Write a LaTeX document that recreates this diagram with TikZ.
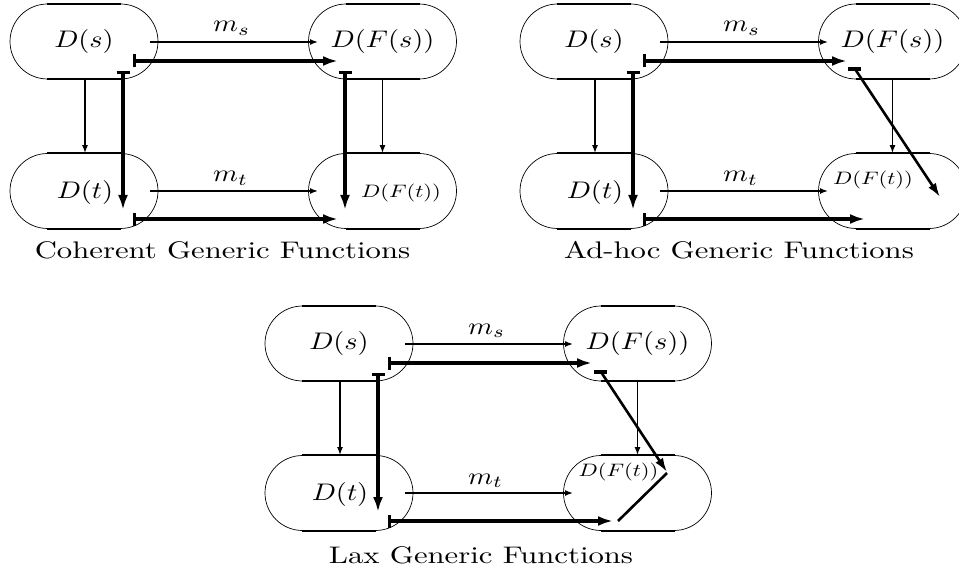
\documentclass[tikz,border=0pt]{standalone}
\usetikzlibrary{shapes.misc,arrows.meta,calc}
\tikzset{
  stad/.style={draw, line width=0.7pt, rounded rectangle, minimum width=148pt, minimum height=75pt, inner sep=0pt},
  flat/.style={line width=2.2pt},
  thinarr/.style={line width=1.5pt, -{Latex[length=8pt,width=6pt]}},
  thickarr/.style={line width=3.2pt, {Bar[width=13pt]}-{Latex[length=15pt,width=10pt]}},
  diagarr/.style={line width=2.6pt, -{Latex[length=14pt,width=9pt]}},
  diagline/.style={line width=2.6pt},
  hbar/.style={line width=3.2pt},
  mlab/.style={inner sep=0pt},
  slab/.style={inner sep=0pt},
  caplab/.style={inner sep=0pt},
}
\newcommand{\wm}[1]{\scalebox{2.83}[2.4]{$#1$}}
\newcommand{\ws}[1]{\scalebox{2.25}[1.8]{$#1$}}
\newcommand{\wc}[1]{\scalebox{3.07}[2.4]{#1}}
% common part of one diagram: #1 prefix, #2 end x of top thick arrow, #3 end x of bottom thick arrow
\newcommand{\commonpart}[3]{%
  \node[stad] (#1Ds) at (84,41.5) {\wm{D(s)}};
  \node[stad] (#1Dt) at (84,191) {};
  \node[mlab] (#1Dtl) at (85,192) {\wm{D(t)}};
  \node[stad] (#1DFs) at (382.5,41.5) {\wm{D(F(s))}};
  \node[stad] (#1DFt) at (382.5,191) {};
  \foreach \n in {Ds,Dt,DFs,DFt}
    \draw[flat] ($(#1\n.north)+(-37,0)$) -- ($(#1\n.north)+(37,0)$)
                ($(#1\n.south)+(-37,0)$) -- ($(#1\n.south)+(37,0)$);
  \node[mlab, anchor=base west] (#1ms) at (213,32) {\wm{m_s}};
  \node[mlab, anchor=base west] (#1mt) at (213,182) {\wm{m_t}};
  \coordinate (#1msA) at (150,42);  \coordinate (#1msB) at (318,42);
  \coordinate (#1mtA) at (150,191); \coordinate (#1mtB) at (318,191);
  \coordinate (#1tA) at (133,61);   \coordinate (#1tB) at (#2,61);
  \coordinate (#1bA) at (133,219);  \coordinate (#1bB) at (#3,219);
  \coordinate (#1lA) at (123,71);   \coordinate (#1lB) at (123,210);
  \draw[thinarr] (#1msA) -- (#1msB);
  \draw[thinarr] (#1mtA) -- (#1mtB);
  \draw[thickarr] (#1tA) -- (#1tB);
  \draw[thickarr] (#1bA) -- (#1bB);
  \draw[thickarr] (#1lA) -- (#1lB);
  \draw[thinarr] ($(#1Ds.south)+(1,0)$) -- ($(#1Dt.north)+(1,0)$);
  \draw[thinarr] (#1DFs.south) -- (#1DFt.north);
}
\begin{document}
\begin{tikzpicture}[x=1pt,y=-1pt]
\useasboundingbox (0,0) rectangle (959,575);
\fill[white] (0,0) rectangle (959,575);

% Coherent
\begin{scope}
  \commonpart{a}{338}{338}
  \node[slab] (aDFtl) at (401,193) {\ws{D(F(t))}};
  \coordinate (arA) at (345,71); \coordinate (arB) at (345,210);
  \draw[thickarr] (arA) -- (arB);
  \node[caplab] (acap) at (222.5,250) {\wc{Coherent Generic Functions}};
\end{scope}

% Ad-hoc
\begin{scope}[shift={(510,0)}]
  \commonpart{b}{337}{355}
  \node[slab] (bDFtl) at (363,180) {\ws{D(F(t))}};
  \coordinate (bdA) at (345,69); \coordinate (bdB) at (430,197);
  \coordinate (bhA) at (338,69); \coordinate (bhB) at (351,69);
  \draw[hbar] (bhA) -- (bhB);
  \draw[diagarr] (bdA) -- (bdB);
  \node[caplab] (bcap) at (229,250) {\wc{Ad-hoc Generic Functions}};
\end{scope}

% Lax
\begin{scope}[shift={(255,302)}]
  \commonpart{c}{337}{358}
  \node[slab] (cDFtl) at (363.5,170) {\ws{D(F(t))}};
  \coordinate (cdA) at (346,70); \coordinate (cdB) at (412,170);
  \coordinate (chA) at (339,70); \coordinate (chB) at (352,70);
  \coordinate (ceA) at (412,171); \coordinate (ceB) at (363,219);
  \draw[hbar] (chA) -- (chB);
  \draw[diagarr] (cdA) -- (cdB);
  \draw[diagline] (ceA) -- (ceB);
  \node[caplab] (ccap) at (226,253) {\wc{Lax Generic Functions}};
\end{scope}
\end{tikzpicture}
\end{document}
